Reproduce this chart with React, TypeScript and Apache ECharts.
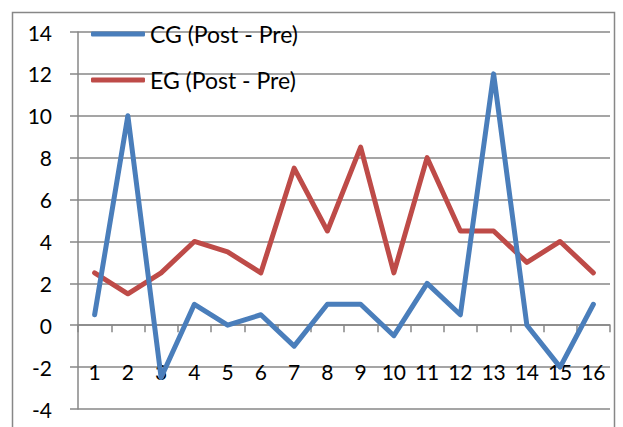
import React, { useEffect, useRef } from "react";
import * as echarts from "echarts";

const categories = ["1", "2", "3", "4", "5", "6", "7", "8", "9", "10", "11", "12", "13", "14", "15", "16"];
const cgValues = [0.5, 10, -2.5, 1, 0, 0.5, -1, 1, 1, -0.5, 2, 0.5, 12, 0, -2, 1];
const egValues = [2.5, 1.5, 2.5, 4, 3.5, 2.5, 7.5, 4.5, 8.5, 2.5, 8, 4.5, 4.5, 3, 4, 2.5];
const seriesNames = ["CG (Post - Pre)", "EG (Post - Pre)"];
const yMin = -4;
const yMax = 14;
const yStep = 2;

const BLUE = "#4A7EBB";
const RED = "#BE4B48";
const GRID = "#878787";
const FONT = "Lato, Carlito, 'Open Sans', sans-serif";

export default function App() {
  const ref = useRef<HTMLDivElement>(null);
  useEffect(() => {
    if (!ref.current) return;
    const chart = echarts.init(ref.current, null, { renderer: "svg" });
    chart.setOption({
      animation: false,
      backgroundColor: "#ffffff",
      textStyle: { fontFamily: FONT },
      graphic: [
        {
          type: "rect",
          shape: { x: 12.5, y: 12.5, width: 602, height: 430 },
          style: { fill: "none", stroke: GRID, lineWidth: 1.5 },
          silent: true,
          z: -1,
        },
      ],
      grid: { left: 78, right: 13, top: 32, bottom: 18, containLabel: false, outerBoundsMode: "none" },
      legend: {
        orient: "vertical",
        left: 91,
        top: 21,
        padding: 0,
        itemWidth: 54,
        itemHeight: 5,
        itemGap: 20,
        icon: "roundRect",
        data: seriesNames.map((n, i) => ({
          name: n,
          itemStyle: { color: i === 0 ? BLUE : RED },
        })),
        textStyle: { fontSize: 23, lineHeight: 26, color: "#000", fontFamily: FONT },
      },
      xAxis: [
        {
          type: "category",
          data: categories,
          boundaryGap: true,
          axisLine: { onZero: true, lineStyle: { color: GRID, width: 1.5 } },
          axisTick: { show: true, length: 7, inside: false, alignWithLabel: false, lineStyle: { color: GRID, width: 1.5 } },
          axisLabel: { show: false },
          splitLine: { show: false },
        },
        {
          type: "category",
          data: categories,
          boundaryGap: true,
          position: "bottom",
          offset: -48,
          axisLine: { show: false, onZero: false },
          axisTick: { show: false },
          axisLabel: { color: "#000", fontSize: 21, margin: 0, fontFamily: FONT, interval: 0 },
          splitLine: { show: false },
        },
      ],
      yAxis: {
        type: "value",
        min: yMin,
        max: yMax,
        interval: yStep,
        axisLine: { show: true, lineStyle: { color: GRID, width: 1.5 } },
        axisTick: { show: true, length: 8, lineStyle: { color: GRID, width: 1.5 } },
        axisLabel: { color: "#000", fontSize: 21, margin: 26, padding: [5, 0, 0, 0], fontFamily: FONT },
        splitLine: { show: true, lineStyle: { color: GRID, width: 1.5 } },
      },
      series: [
        {
          name: seriesNames[0],
          type: "line",
          data: cgValues,
          symbol: "none",
          lineStyle: { color: BLUE, width: 5, join: "round", cap: "round" },
          itemStyle: { color: BLUE },
          z: 3,
        },
        {
          name: seriesNames[1],
          type: "line",
          data: egValues,
          symbol: "none",
          lineStyle: { color: RED, width: 5, join: "round", cap: "round" },
          itemStyle: { color: RED },
          z: 2,
        },
      ],
    });
    return () => chart.dispose();
  }, []);
  return (
    <div
      ref={ref}
      style={{ position: "fixed", left: 0, top: 0, width: 623, height: 427 }}
    />
  );
}
